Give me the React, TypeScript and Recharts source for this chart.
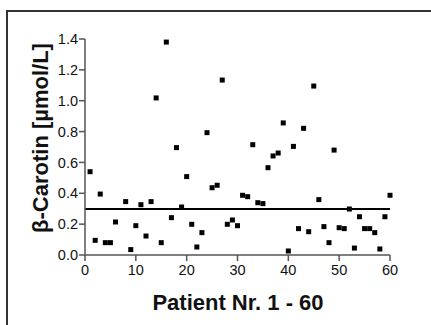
import React from "react";
import { ScatterChart, Scatter, XAxis, YAxis, ReferenceLine, Label } from "recharts";

const patients = [1, 2, 3, 4, 5, 6, 8, 9, 10, 11, 12, 13, 14, 15, 16, 17, 18, 19, 20, 21, 22, 23, 24, 25, 26, 27, 28, 29, 30, 31, 32, 33, 34, 35, 36, 37, 38, 39, 40, 41, 42, 43, 44, 45, 46, 47, 48, 49, 50, 51, 52, 53, 54, 55, 56, 57, 58, 59, 60];
const carotene = [0.54, 0.095, 0.395, 0.08, 0.08, 0.214, 0.346, 0.035, 0.19, 0.326, 0.123, 0.346, 1.018, 0.08, 1.38, 0.242, 0.696, 0.311, 0.508, 0.199, 0.052, 0.145, 0.793, 0.436, 0.452, 1.134, 0.199, 0.227, 0.19, 0.387, 0.378, 0.715, 0.339, 0.333, 0.566, 0.642, 0.661, 0.856, 0.026, 0.704, 0.171, 0.821, 0.151, 1.095, 0.359, 0.184, 0.08, 0.68, 0.177, 0.171, 0.298, 0.045, 0.248, 0.171, 0.171, 0.145, 0.039, 0.248, 0.387];
const meanValue = 0.298;
const xTicks = [0, 10, 20, 30, 40, 50, 60];
const yTicks = [0, 0.2, 0.4, 0.6, 0.8, 1.0, 1.2, 1.4];

const data = patients.map((p, i) => ({ x: p, y: carotene[i] }));

const font = "'Liberation Sans', Arial, Helvetica, sans-serif";

const SquareShape = (props: any) => {
  const { cx, cy } = props;
  if (cx == null || cy == null) return null;
  return <rect x={cx - 2.5} y={cy - 2.5} width={5} height={5} fill="#000" />;
};

export default function App() {
  return (
    <div style={{ position: "absolute", left: 0, top: 0, width: 431, height: 325, overflow: "hidden", background: "#fff" }}>
      <div
        style={{
          position: "absolute",
          left: 6,
          top: 10,
          width: 440,
          height: 340,
          border: "2px solid #333",
          boxSizing: "border-box",
        }}
      />
      <div style={{ position: "absolute", left: 0, top: 0 }}>
        <ScatterChart width={431} height={325} margin={{ top: 39, right: 41, left: 0, bottom: 0 }}>
          <XAxis
            type="number"
            dataKey="x"
            domain={[0, 60]}
            ticks={xTicks}
            height={70}
            tickSize={6}
            tickMargin={4}
            stroke="#555"
            strokeWidth={1.5}
            tick={{ fill: "#111", fontSize: 14.5, fontFamily: font }}
          >
            <Label
              content={() => (
                <text x={238} y={310} textAnchor="middle" fontFamily={font} fontWeight="bold" fontSize={22} fill="#111">
                  Patient Nr. 1 - 60
                </text>
              )}
            />
          </XAxis>
          <YAxis
            type="number"
            dataKey="y"
            domain={[0, 1.4]}
            ticks={yTicks}
            width={85}
            tickSize={6}
            tickMargin={1}
            stroke="#555"
            strokeWidth={1.5}
            tickFormatter={(v: number) => v.toFixed(1)}
            tick={{ fill: "#111", fontSize: 14.5, fontFamily: font }}
          >
            <Label
              content={() => (
                <text
                  x={0}
                  y={0}
                  transform="translate(48,138) rotate(-90)"
                  textAnchor="middle"
                  fontFamily={font}
                  fontWeight="bold"
                  fontSize={22}
                  fill="#111"
                >
                  β-Carotin [µmol/L]
                </text>
              )}
            />
          </YAxis>
          <ReferenceLine y={meanValue} stroke="#000" strokeWidth={2} ifOverflow="extendDomain" />
          <Scatter data={data} shape={SquareShape} isAnimationActive={false} />
        </ScatterChart>
      </div>
    </div>
  );
}
